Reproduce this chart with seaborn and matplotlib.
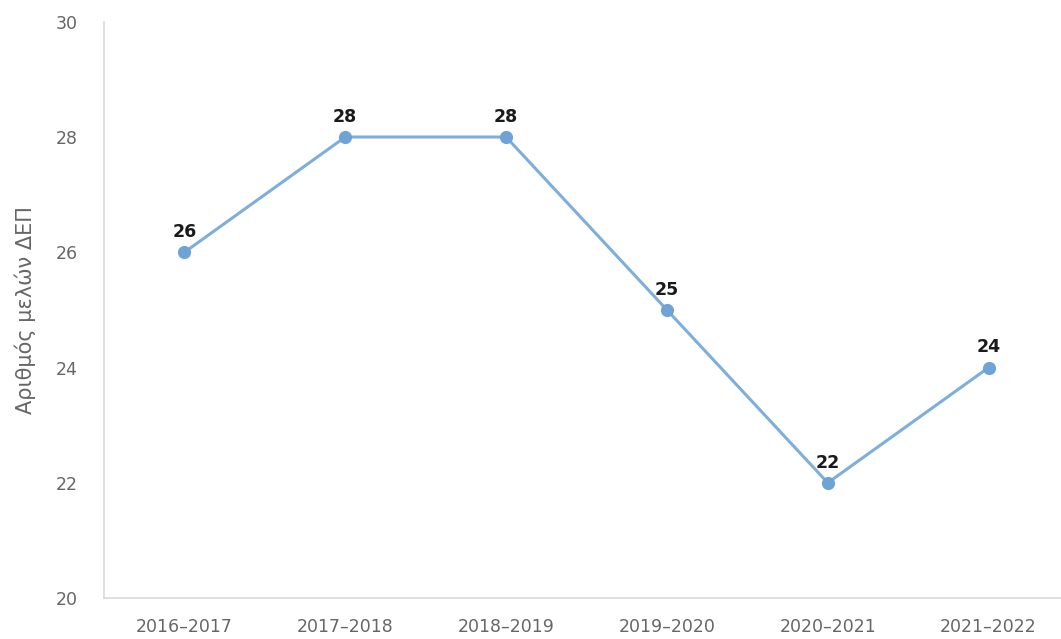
import matplotlib
matplotlib.use("Agg")
import matplotlib.pyplot as plt
import seaborn as sns
import pandas as pd

# dane z wykresu
seasons = ["2016–2017", "2017–2018", "2018–2019", "2019–2020", "2020–2021", "2021–2022"]
members = [26, 28, 28, 25, 22, 24]

df = pd.DataFrame({"season": seasons, "members": members})
df["pos"] = range(len(seasons))

sns.set_style("white")
plt.rcParams['font.family'] = ['DejaVu Sans']

fig = plt.figure(figsize=(10.61, 6.39), dpi=100)
ax = fig.add_axes([0.098, 0.064, 0.902, 0.902])

line_col = "#7eaedc"
sns.lineplot(data=df, x="pos", y="members", ax=ax, color=line_col, linewidth=2.2,
             marker="o", markersize=9.5, markeredgewidth=0, markerfacecolor="#6fa3d6")

for x, y in zip(df["pos"], df["members"]):
    ax.annotate(str(y), (x, y), xytext=(0, 8), textcoords="offset points",
                ha="center", va="bottom", fontsize=12.5, fontweight="bold", color="#1a1a1a")

ax.set_xlim(-0.5, 5.45)
ax.set_ylim(20, 30)
ax.set_yticks([20, 22, 24, 26, 28, 30])
ax.set_xticks(df["pos"])
ax.set_xticklabels(seasons)
ax.tick_params(axis="both", length=0, labelcolor="#666666", labelsize=12.5)
ax.tick_params(axis="y", pad=19)
ax.tick_params(axis="x", pad=14)
ax.set_xlabel("")
ax.set_ylabel("Αριθμός μελών ΔΕΠ", color="#666666", fontsize=15, labelpad=14)

for s in ["top", "right"]:
    ax.spines[s].set_visible(False)
for s in ["left", "bottom"]:
    ax.spines[s].set_color("#d9d9d9")
    ax.spines[s].set_linewidth(1.2)

fig.savefig("out.png", dpi=100)
